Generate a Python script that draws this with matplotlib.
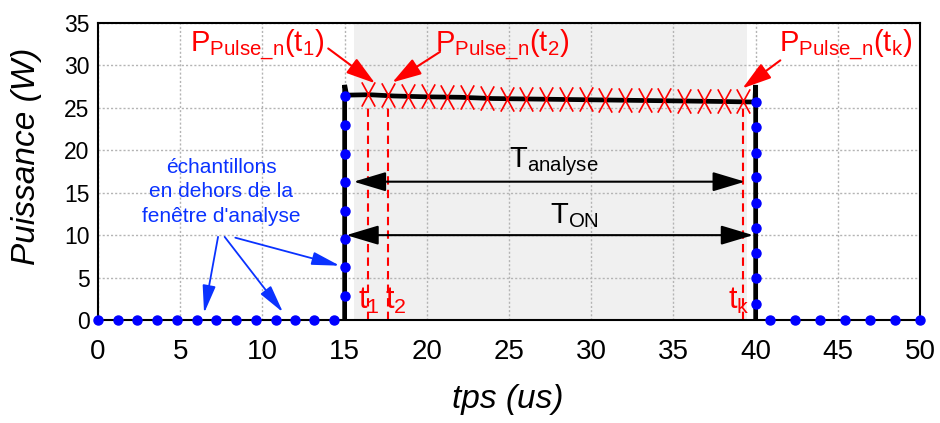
import matplotlib
matplotlib.use('Agg')
import matplotlib.pyplot as plt
from matplotlib.path import Path

plt.rcParams['font.family'] = ['Liberation Sans', 'DejaVu Sans']
plt.rcParams['mathtext.fontset'] = 'custom'
plt.rcParams['mathtext.rm'] = 'Liberation Sans'
plt.rcParams['mathtext.it'] = 'Liberation Sans:italic'
plt.rcParams['mathtext.default'] = 'regular'

# echantillons en dehors de la fenetre (points bleus)
t_bas_gauche = [0, 1.2, 2.4, 3.6, 4.8, 6.0, 7.2, 8.4, 9.6, 10.8, 11.95, 13.15, 14.35]
t_bas_droite = [40.85, 42.4, 43.9, 45.45, 46.98, 48.5, 50.0]
t_montant = 15.0
p_montant = [2.8, 6.2, 9.6, 12.9, 16.3, 19.6, 23.0, 26.4]
t_descendant = 40.0
p_descendant = [25.7, 22.7, 19.7, 16.8, 13.8, 10.8, 7.9, 4.9, 1.9]

# trace mesuree de l'impulsion
t_trace = [15.0, 15.0, 15.12, 16.5, 18, 20, 22, 24, 26, 28, 30, 32, 34, 36, 38, 39.5, 39.95, 40.0, 40.0]
p_trace = [0, 27.7, 26.5, 26.55, 26.4, 26.3, 26.25, 26.1, 26.05, 26.0, 25.95, 25.9, 25.85, 25.8, 25.75,
           25.7, 25.7, 27.7, 0]

# echantillons dans la fenetre d'analyse (croix rouges)
t_ech = [16.45, 17.65, 18.85, 20.05, 21.25, 22.45, 23.65, 24.85, 26.05, 27.25,
         28.45, 29.65, 30.85, 32.05, 33.25, 34.45, 35.65, 36.85, 38.05, 39.25]
p_ech = [26.6, 26.55, 26.45, 26.35, 26.3, 26.25, 26.2, 26.1, 26.1, 26.05,
         26.0, 26.0, 25.95, 25.95, 25.9, 25.9, 25.85, 25.85, 25.8, 25.8]

# fenetres
fenetre_analyse = (15.55, 39.45)
t_on = (15.0, 40.0)
x_ticks = [0, 5, 10, 15, 20, 25, 30, 35, 40, 45, 50]
y_ticks = [0, 5, 10, 15, 20, 25, 30, 35]

rouge = '#ff0000'
bleu = '#0a32ff'

fig = plt.figure(figsize=(9.4, 4.23), dpi=100)
ax = fig.add_axes([0.1043, 0.2435, 0.8745, 0.7021])

ax.axvspan(fenetre_analyse[0], fenetre_analyse[1], color='#f0f0f0', zorder=0, lw=0)
ax.grid(True, color='#b4b4b4', linestyle=(0, (1.5, 1.5)), linewidth=1)
ax.set_axisbelow(True)

# trace noire
ax.plot(t_trace, p_trace, color='black', lw=3.4, zorder=3, solid_joinstyle='miter')

# points bleus
ax.plot(t_bas_gauche, [0] * len(t_bas_gauche), color='black', lw=1.2, marker='o', ms=6.5,
        mfc='blue', mec='blue', zorder=5, clip_on=False)
ax.plot(t_bas_droite, [0] * len(t_bas_droite), color='black', lw=1.2, marker='o', ms=6.5,
        mfc='blue', mec='blue', zorder=5, clip_on=False)
ax.plot([t_montant] * len(p_montant), p_montant, 'o', color='blue', ms=6.5, zorder=5)
ax.plot([t_descendant] * len(p_descendant), p_descendant, 'o', color='blue', ms=6.5, zorder=5)

# croix rouges allongees
croix = Path([(-0.55, -1), (0.55, 1), (-0.55, 1), (0.55, -1)],
             [Path.MOVETO, Path.LINETO, Path.MOVETO, Path.LINETO])
ax.plot(t_ech, p_ech, linestyle='none', marker=croix, ms=17.5, mec=rouge, mew=1.2, zorder=4)

# lignes pointillees t1, t2, tk
for t in [t_ech[0], t_ech[1], t_ech[-1]]:
    ax.plot([t, t], [0, 25.0], color=rouge, lw=1.5, linestyle=(0, (4, 2.5)), zorder=2)

ax.text(16.45, 2.3, r'$t_1$', color=rouge, fontsize=22, ha='center', va='center')
ax.text(18.1, 2.3, r'$t_2$', color=rouge, fontsize=22, ha='center', va='center')
ax.text(38.95, 2.3, r'$t_k$', color=rouge, fontsize=22, ha='center', va='center')

# labels P
style_rouge = dict(arrowstyle='-|>,head_length=1.8,head_width=0.55', color=rouge, lw=1.5,
                   shrinkA=0, shrinkB=0, mutation_scale=10)
ax.text(9.7, 32.4, r'$P_{Pulse\_n}(t_1)$', color=rouge, fontsize=21, ha='center', va='center')
ax.annotate('', xy=(16.85, 27.9), xytext=(14.0, 32.0), arrowprops=style_rouge, zorder=6)
ax.text(24.6, 32.4, r'$P_{Pulse\_n}(t_2)$', color=rouge, fontsize=21, ha='center', va='center')
ax.annotate('', xy=(17.9, 28.0), xytext=(20.8, 31.6), arrowprops=style_rouge, zorder=6)
ax.text(45.5, 32.4, r'$P_{Pulse\_n}(t_k)$', color=rouge, fontsize=21, ha='center', va='center')
ax.annotate('', xy=(39.2, 27.3), xytext=(41.5, 30.6), arrowprops=style_rouge, zorder=6)

# T analyse et T ON
style_noir = dict(arrowstyle='<|-|>,head_length=2.0,head_width=0.6', color='black', lw=1.5,
                  shrinkA=0, shrinkB=0, mutation_scale=10)
ax.annotate('', xy=(fenetre_analyse[0], 16.3), xytext=(39.35, 16.3), arrowprops=style_noir, zorder=6)
ax.text(27.7, 18.6, r'$T_{analyse}$', fontsize=21, ha='center', va='center')
ax.annotate('', xy=(t_on[0] + 0.1, 10.0), xytext=(t_on[1] - 0.15, 10.0), arrowprops=style_noir, zorder=6)
ax.text(29.0, 12.3, r'$T_{ON}$', fontsize=21, ha='center', va='center')

# texte bleu
ax.text(7.5, 15.1, "échantillons\nen dehors de la\nfenêtre d'analyse", color=bleu, fontsize=15,
        ha='center', va='center', linespacing=1.38)
style_bleu = dict(arrowstyle='-|>,head_length=1.7,head_width=0.4', color=bleu, lw=1.3,
                  shrinkA=0, shrinkB=0, mutation_scale=10)
ax.annotate('', xy=(6.45, 0.8), xytext=(7.3, 9.8), arrowprops=style_bleu, zorder=6)
ax.annotate('', xy=(11.25, 0.9), xytext=(7.7, 9.8), arrowprops=style_bleu, zorder=6)
ax.annotate('', xy=(14.7, 6.4), xytext=(8.35, 9.7), arrowprops=style_bleu, zorder=6)

ax.set_xlim(0, 50)
ax.set_ylim(0, 35)
ax.set_xticks(x_ticks)
ax.set_yticks(y_ticks)
ax.tick_params(axis='x', length=0, pad=14, labelsize=20)
ax.tick_params(axis='y', length=0, pad=6, labelsize=16.5)
for s in ax.spines.values():
    s.set_linewidth(1.5)

ax.set_xlabel('tps (us)', fontsize=24, style='italic')
ax.xaxis.set_label_coords(0.499, -0.215)
ax.set_ylabel('Puissance (W)', fontsize=24, style='italic')
ax.yaxis.set_label_coords(-0.068, 0.552)

fig.savefig('out.png', dpi=100)
